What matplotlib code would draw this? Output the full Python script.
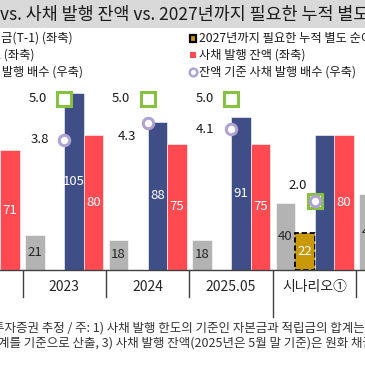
import matplotlib
matplotlib.use("Agg")
import matplotlib.pyplot as plt
import numpy as np
from matplotlib.patches import Rectangle

plt.rcParams["font.family"] = ["Noto Sans CJK KR", "DejaVu Sans"]

# 데이터 (조 원 / 배)
categories = ["2022", "2023", "2024", "2025.05", "시나리오①", "시나리오②"]
capital = [np.nan, 21, 18, 18, 40, 45]          # 자본금+적립금(T-1)
net_income_need = [np.nan, np.nan, np.nan, np.nan, 22, np.nan]  # 2027년까지 필요한 누적 별도 순이익
issue_limit = [np.nan, 105, 88, 91, 80, np.nan]  # 사채 발행 한도
outstanding = [71, 80, 75, 75, 80, np.nan]       # 사채 발행 잔액
mult_limit = [np.nan, 5.0, 5.0, 5.0, 2.0, np.nan]     # 한도 기준 사채 발행 배수
mult_outstanding = [np.nan, 3.8, 4.3, 4.1, 2.0, np.nan]  # 잔액 기준 사채 발행 배수

GRAY = "#b3b3b3"
GOLD = "#c9990a"
BLUE = "#3f4e86"
RED = "#ff4a52"
GREEN = "#86c140"
PURPLE = "#b0a3d2"

W, H = 365, 365
fig = plt.figure(figsize=(W / 100, H / 100), dpi=100)


def fx(px):
    return px / W


def fy(py):
    return 1 - py / H


# 제목 띠
fig.add_artist(Rectangle((0, fy(28)), 1, 28 / H, transform=fig.transFigure,
                         facecolor="#d9d9d9", edgecolor="none", zorder=0))
fig.text(fx(0.5), fy(15), "자본금+적립금 vs. 사채 발행 한도 ", ha="right", va="center",
         fontsize=12.5, color="#1a1a1a")
fig.text(fx(0.5), fy(15), "vs. 사채 발행 잔액 vs. 2027년까지 필요한 누적 별도 순이익",
         ha="left", va="center", fontsize=12.5, color="#1a1a1a")

# 본 차트
x0, step = 64.3, 83.4
left_px = x0 - 1.5 * step
ax = fig.add_axes([fx(left_px), fy(270), fx(6 * step), (270 - 28) / H])
ax.patch.set_alpha(0)
x = np.arange(len(categories))
w = 19.5 / step

b_cap = ax.bar(x - 1.5 * w, capital, w, color=GRAY, edgecolor="white", linewidth=0.4)
b_need = ax.bar(x - 0.5 * w, net_income_need, w, color=GOLD, edgecolor="black",
                linewidth=1.3, linestyle=(0, (3, 1.5)))
b_lim = ax.bar(x + 0.5 * w, issue_limit, w, color=BLUE, edgecolor="white", linewidth=0.4)
b_out = ax.bar(x + 1.5 * w, outstanding, w, color=RED, edgecolor="white", linewidth=0.4)

ax.set_xlim(-0.5, 5.5)
ax.set_ylim(0, 242 / 1.685)


def put_labels(bars, vals, color, skip=()):
    for i, (b, v) in enumerate(zip(bars, vals)):
        if np.isnan(v) or i in skip:
            continue
        ax.text(b.get_x() + b.get_width() / 2, v / 2, f"{v:.0f}", ha="center", va="center",
                fontsize=9.5, color=color)


put_labels(b_cap, capital, "#262626")
put_labels(b_need, net_income_need, "white")
put_labels(b_lim, issue_limit, "white", skip=(4,))
put_labels(b_out, outstanding, "white")

for s in ["top", "left", "right"]:
    ax.spines[s].set_visible(False)
ax.spines["bottom"].set_color("#404040")
ax.spines["bottom"].set_linewidth(1)
ax.set_yticks([])
ax.set_xticks(x)
ax.set_xticklabels(categories, fontsize=10, color="#262626")
ax.tick_params(axis="x", length=0, pad=7)

# 범주 구분선
trans = ax.get_xaxis_transform()
for b in np.arange(-0.5, 6, 1):
    low = -47 / 242 if b == 3.5 else -27 / 242
    ax.plot([b, b], [0, low], transform=trans, color="#404040", lw=1, clip_on=False)

# 보조축: 배수
ax2 = ax.twinx()
ax2.set_ylim(0, 242 / 34.3)
ax2.axis("off")
ax2.plot(x, mult_limit, ls="none", marker="s", ms=10, mfc="white", mec=GREEN, mew=2.2)
ax2.plot(x, mult_outstanding, ls="none", marker="o", ms=7.5, mfc="white", mec=PURPLE, mew=2.2)

# 라벨 위치 (픽셀 오프셋)
lim_offsets = [None, (-17.5, 0), (-17.5, 0), (-17.5, 0), None, None]
out_offsets = [None, (-15.5, 0), (-11, -14), (-16.5, 0), (-8, 16), None]
for vals, offs in [(mult_limit, lim_offsets), (mult_outstanding, out_offsets)]:
    for xi, v, o in zip(x, vals, offs):
        if o is None or np.isnan(v):
            continue
        ax2.annotate(f"{v:.1f}", (xi, v), xytext=(o[0] * 0.72, o[1] * 0.72),
                     textcoords="offset points", ha="right", va="center",
                     fontsize=9.5, color="#1a1a1a")

# 범례 (수동 배치)
leg_left = ["자본금+적립금(T-1) (좌축)", "사채 발행 한도 (좌축)", "한도 기준 사채 발행 배수 (우축)"]
leg_left_end = [73, 35, 83]
leg_right = ["2027년까지 필요한 누적 별도 순이익 (좌축)", "사채 발행 잔액 (좌축)",
             "잔액 기준 사채 발행 배수 (우축)"]
rows = [38, 55, 72]
for t, e, r in zip(leg_left, leg_left_end, rows):
    fig.text(fx(e), fy(r), t, ha="right", va="center", fontsize=8.8, color="#1a1a1a")
for t, r in zip(leg_right, rows):
    fig.text(fx(198.5), fy(r), t, ha="left", va="center", fontsize=8.8, color="#1a1a1a")

over = fig.add_axes([0, 0, 1, 1])
over.set_xlim(0, W)
over.set_ylim(H, 0)
over.axis("off")
over.patch.set_alpha(0)
over.add_patch(Rectangle((189.5, 34.5), 6.5, 7, facecolor=GOLD, edgecolor="black", lw=1.6))
over.add_patch(Rectangle((190, 52), 6, 6, facecolor=RED, edgecolor="none"))
over.plot([193], [72], marker="o", ms=5.5, mfc="white", mec=PURPLE, mew=1.8)

# 출처 / 주석
fig.text(fx(-7), fy(328), "자료: 한국", ha="right", va="center", fontsize=9, color="#333333")
fig.text(fx(-7), fy(328), "투자증권 추정 / 주: 1) 사채 발행 한도의 기준인 자본금과 적립금의 합계는 직전 연도 말 기준,",
         ha="left", va="center", fontsize=9, color="#333333")
fig.text(fx(-2), fy(343), "계를 기준으로 산출, 3) 사채 발행 잔액(2025년은 5월 말 기준)은 원화 채권 기준",
         ha="left", va="center", fontsize=9, color="#333333")

fig.savefig("out.png", dpi=100)
